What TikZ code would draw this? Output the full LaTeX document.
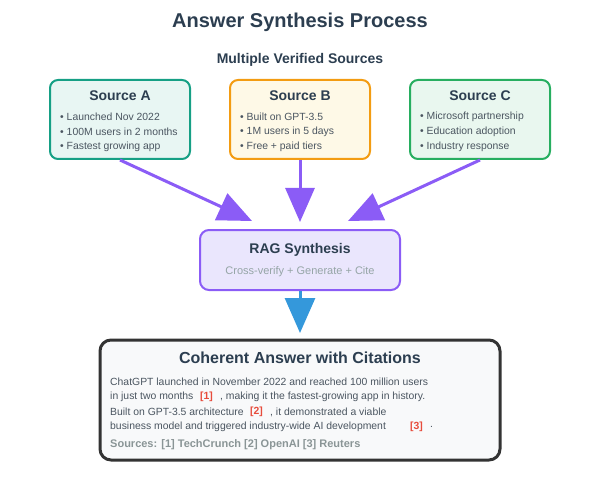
\documentclass[tikz,border=0pt]{standalone}
\usepackage{fontspec}
\setmainfont{Liberation Sans}
\usetikzlibrary{arrows.meta}
\definecolor{dark}{HTML}{2C3E50}
\definecolor{bodytxt}{HTML}{4A5560}
\definecolor{graytxt}{HTML}{95A5A6}
\definecolor{srcgray}{HTML}{8A9596}
\definecolor{aFill}{HTML}{E8F6F3}
\definecolor{aLine}{HTML}{16A085}
\definecolor{bFill}{HTML}{FEF9E7}
\definecolor{bLine}{HTML}{F39C12}
\definecolor{cFill}{HTML}{E9F7EF}
\definecolor{cLine}{HTML}{27AE60}
\definecolor{ragFill}{HTML}{EAE6FD}
\definecolor{purp}{HTML}{8B5CF6}
\definecolor{blueA}{HTML}{3498DB}
\definecolor{ansFill}{HTML}{F8F9FA}
\definecolor{ansLine}{HTML}{333333}
\definecolor{cite}{HTML}{E74C3C}
\tikzset{
  srcbox/.style={draw, line width=2pt, rounded corners=8pt, minimum width=140pt, minimum height=79pt, inner sep=0pt},
  boxtitle/.style={font=\bfseries\fontsize{14}{16}\selectfont, text=dark, inner sep=0pt},
  bullet/.style={anchor=west, font=\fontsize{10.4}{12}\selectfont, text=bodytxt, inner sep=0pt},
  bodyline/.style={anchor=west, font=\fontsize{10.4}{12}\selectfont, text=bodytxt, inner sep=0pt},
  citemark/.style={anchor=west, font=\bfseries\fontsize{10.4}{12}\selectfont, text=cite, inner sep=0pt},
  purparrow/.style={draw=purp, line width=3pt, -{Triangle[length=34pt,width=29pt]}, fill=purp},
}
\begin{document}
\begin{tikzpicture}[x=1pt,y=-1pt]
\useasboundingbox (0,0) rectangle (600,500);
% titles
\node[font=\bfseries\fontsize{20}{24}\selectfont, text=dark] (title) at (300,22) {Answer Synthesis Process};
\node[font=\bfseries\fontsize{14}{16}\selectfont, text=dark] (subtitle) at (300,60) {Multiple Verified Sources};
% source boxes
\node[srcbox, draw=aLine, fill=aFill] (srcA) at (120,119.5) {};
\node[srcbox, draw=bLine, fill=bFill] (srcB) at (300,119.5) {};
\node[srcbox, draw=cLine, fill=cFill] (srcC) at (480,119.5) {};
\node[boxtitle] (tA) at (120,96) {Source A};
\node[boxtitle] (tB) at (300,96) {Source B};
\node[boxtitle] (tC) at (480,96) {Source C};
\node[bullet] (a1) at (60,117) {• Launched Nov 2022};
\node[bullet] (a2) at (60,132) {• 100M users in 2 months};
\node[bullet] (a3) at (60,147) {• Fastest growing app};
\node[bullet] (b1) at (240,117) {• Built on GPT-3.5};
\node[bullet] (b2) at (240,132) {• 1M users in 5 days};
\node[bullet] (b3) at (240,147) {• Free + paid tiers};
\node[bullet] (c1) at (420,117) {• Microsoft partnership};
\node[bullet] (c2) at (420,132) {• Education adoption};
\node[bullet] (c3) at (420,147) {• Industry response};
% RAG box
\node[draw=purp, fill=ragFill, line width=2pt, rounded corners=9pt, minimum width=200pt, minimum height=60pt, inner sep=0pt] (rag) at (300,260) {};
\node[boxtitle] (ragT) at (300,250) {RAG Synthesis};
\node[font=\fontsize{11}{13}\selectfont, text=graytxt, inner sep=0pt] (ragS) at (300,272) {Cross-verify + Generate + Cite};
% arrows to RAG
\coordinate (tipA) at (252,221);
\coordinate (tipB) at (300,222);
\coordinate (tipC) at (348,221);
\draw[purparrow] (srcA.south) -- (tipA);
\draw[purparrow] (srcB.south) -- (tipB);
\draw[purparrow] (srcC.south) -- (tipC);
% answer box
\node[draw=ansLine, fill=ansFill, line width=3pt, rounded corners=11pt, minimum width=400pt, minimum height=120pt, inner sep=0pt] (ans) at (300,400) {};
\coordinate (tipD) at (300,333);
\draw[draw=blueA, fill=blueA, line width=3pt, -{Triangle[length=35pt,width=30pt]}] (rag.south) -- (tipD);
\node[font=\bfseries\fontsize{16}{19}\selectfont, text=dark, inner sep=0pt] (ansT) at (300,358) {Coherent Answer with Citations};
\node[bodyline] (l1) at (110,382) {ChatGPT launched in November 2022 and reached 100 million users};
\node[bodyline] (l2) at (110,397) {in just two months};
\node[citemark] (c1m) at (200,397) {[1]};
\node[bodyline] (l2b) at (220,397) {, making it the fastest-growing app in history.};
\node[bodyline] (l3) at (110,412) {Built on GPT-3.5 architecture};
\node[citemark] (c2m) at (250,412) {[2]};
\node[bodyline] (l3b) at (270,412) {, it demonstrated a viable};
\node[bodyline] (l4) at (110,427) {business model and triggered industry-wide AI development};
\node[citemark] (c3m) at (410,427) {[3]};
\node[bodyline] (l4b) at (430,427) {.};
\node[anchor=west, font=\bfseries\fontsize{11}{13}\selectfont, text=srcgray, inner sep=0pt] (srcs) at (110,445) {Sources: [1] TechCrunch [2] OpenAI [3] Reuters};
\end{tikzpicture}
\end{document}
